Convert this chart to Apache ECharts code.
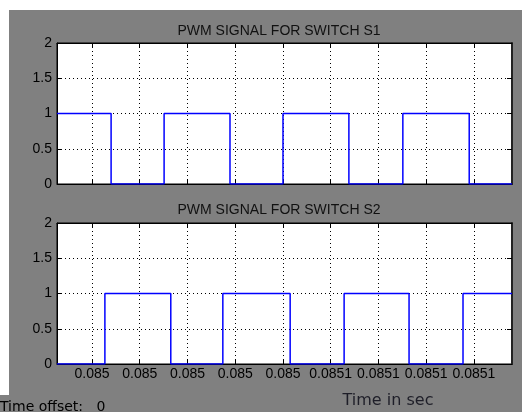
<!DOCTYPE html>
<html>
<head>
<meta charset="utf-8">
<style>
  html, body { margin: 0; padding: 0; background: #ffffff; }
  #chart { width: 522px; height: 412px; }
</style>
<script src="https://cdn.jsdelivr.net/npm/echarts@6/dist/echarts.min.js"></script>
</head>
<body>
<div id="chart"></div>
<script>
// Scope window (seconds)
const windowStart = 0.08500267;
const windowEnd = 0.08509796;

// Time-axis ticks and the labels the scope prints for them
const tickValues = [0.08501, 0.08502, 0.08503, 0.08504, 0.08505, 0.08506, 0.08507, 0.08508, 0.08509];
const tickLabels = ['0.085', '0.085', '0.085', '0.085', '0.085', '0.0851', '0.0851', '0.0851', '0.0851'];

// Level-axis ticks
const levelTicks = [0, 0.5, 1, 1.5, 2];

// Gate signal S1: starts high, toggles at each edge time
const s1StartLevel = 1;
const s1Edges = [0.0850140, 0.0850251, 0.0850389, 0.0850500, 0.0850638, 0.0850751, 0.0850890];

// Gate signal S2: starts low, toggles at each edge time
const s2StartLevel = 0;
const s2Edges = [0.0850127, 0.0850265, 0.0850374, 0.0850515, 0.0850628, 0.0850764, 0.0850877];

const titles = ['PWM SIGNAL FOR SWITCH S1', 'PWM SIGNAL FOR SWITCH S2'];

// Turn edge list into step points held until the next edge
function stepPoints(startLevel, edges) {
  const pts = [[windowStart, startLevel]];
  let level = startLevel;
  edges.forEach(function (t) {
    level = 1 - level;
    pts.push([t, level]);
  });
  pts.push([windowEnd, level]);
  return pts;
}

function tickText(v) {
  for (let i = 0; i < tickValues.length; i++) {
    if (Math.abs(tickValues[i] - v) < 1e-10) return tickLabels[i];
  }
  return '';
}

const FONT = '"Liberation Sans", Arial, sans-serif';
const grids = [
  { left: 57, top: 43, width: 455, height: 141 },
  { left: 57, top: 223, width: 455, height: 141 }
];

const gridLine = { show: true, lineStyle: { color: '#000', width: 1, type: [1, 3] } };

function xAxisFor(gi, position, showLabels) {
  return {
    type: 'value', gridIndex: gi, position: position,
    min: windowStart, max: windowEnd,
    axisLine: { show: true, onZero: false, lineStyle: { color: '#000', width: 1 } },
    axisTick: { show: true, inside: true, length: 5, customValues: tickValues, lineStyle: { color: '#000' } },
    axisLabel: {
      show: showLabels, customValues: tickValues, formatter: tickText,
      color: '#000', fontFamily: FONT, fontSize: 14, margin: 3
    },
    splitLine: position === 'bottom' ? gridLine : { show: false }
  };
}

function yAxisFor(gi, position, showLabels) {
  return {
    type: 'value', gridIndex: gi, position: position,
    min: levelTicks[0], max: levelTicks[levelTicks.length - 1], interval: 0.5,
    axisLine: { show: true, lineStyle: { color: position === 'right' ? '#222' : '#000', width: position === 'right' ? 2 : 1 } },
    axisTick: { show: true, inside: true, length: 5, lineStyle: { color: '#000' } },
    axisLabel: { show: showLabels, color: '#000', fontFamily: FONT, fontSize: 14, margin: 5 },
    splitLine: position === 'left' ? gridLine : { show: false }
  };
}

const chart = echarts.init(document.getElementById('chart'), null, { renderer: 'canvas' });

chart.setOption({
  backgroundColor: '#ffffff',
  animation: false,
  grid: grids.map(function (g) {
    return Object.assign({ show: true, backgroundColor: '#ffffff', borderColor: '#000', borderWidth: 1 }, g);
  }),
  xAxis: [
    xAxisFor(0, 'bottom', false),
    xAxisFor(1, 'bottom', true),
    xAxisFor(0, 'top', false),
    xAxisFor(1, 'top', false)
  ],
  yAxis: [
    yAxisFor(0, 'left', true),
    yAxisFor(1, 'left', true),
    yAxisFor(0, 'right', false),
    yAxisFor(1, 'right', false)
  ],
  series: [
    {
      name: 'S1', type: 'line', step: 'end', xAxisIndex: 0, yAxisIndex: 0,
      data: stepPoints(s1StartLevel, s1Edges), showSymbol: false, clip: true, z: 5,
      lineStyle: { color: '#0000ff', width: 1.5 }
    },
    {
      name: 'S2', type: 'line', step: 'end', xAxisIndex: 1, yAxisIndex: 1,
      data: stepPoints(s2StartLevel, s2Edges), showSymbol: false, clip: true, z: 5,
      lineStyle: { color: '#0000ff', width: 1.5 }
    }
  ],
  graphic: [
    { type: 'rect', z: -10, silent: true, shape: { x: 9, y: 10, width: 513, height: 402 }, style: { fill: '#808080' } },
    { type: 'rect', z: -10, silent: true, shape: { x: 0, y: 395, width: 9, height: 17 }, style: { fill: '#808080' } },
    { type: 'text', z: 10, x: 279, y: 31, style: { text: titles[0], fill: '#111', font: '14px ' + FONT, align: 'center', verticalAlign: 'middle' } },
    { type: 'text', z: 10, x: 279, y: 210.5, style: { text: titles[1], fill: '#111', font: '14px ' + FONT, align: 'center', verticalAlign: 'middle' } },
    { type: 'text', z: 10, x: 388, y: 401, style: { text: 'Time in sec', fill: '#1e1e28', font: '16px "DejaVu Sans", sans-serif', align: 'center', verticalAlign: 'middle' } },
    { type: 'text', z: 10, x: 0, y: 407, style: { text: 'Time offset:   0', fill: '#000', font: '14px "DejaVu Sans", sans-serif', align: 'left', verticalAlign: 'middle' } }
  ]
});
</script>
</body>
</html>
